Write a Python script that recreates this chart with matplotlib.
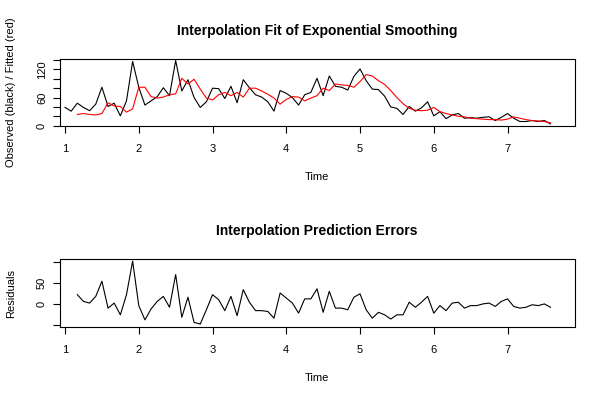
import numpy as np
import matplotlib
matplotlib.use("Agg")
import matplotlib.pyplot as plt

plt.rcParams['font.family'] = ['Liberation Sans', 'DejaVu Sans']

# monthly series, frequency 12, starting at time 1
start = 1.0
freq = 12

observed = [39, 31, 48, 39, 32, 46, 82, 41, 48, 21, 53, 137, 82, 44, 53, 62,
            81, 64, 139, 74, 98, 60, 39, 51, 80, 79, 58, 84, 49, 98, 81, 66,
            61, 51, 31, 75, 69, 60, 44, 66, 71, 101, 64, 106, 84, 82, 76, 105,
            121, 96, 78, 77, 63, 40, 37, 24, 41, 31, 38, 51, 21, 30, 15, 23,
            26, 16, 17, 16, 18, 19, 11, 18, 26, 16, 9, 9, 11, 9, 11, 4]

# fitted values start at the third observation
fitted = [24, 26, 24, 23, 26, 49, 42, 41, 29, 36, 82, 82, 62, 59, 61, 66,
          68, 101, 89, 99, 78, 59, 55, 66, 71, 64, 71, 61, 80, 80, 74, 67,
          59, 46, 56, 62, 61, 53, 59, 64, 80, 75, 89, 87, 86, 82, 94, 109,
          106, 96, 88, 75, 60, 47, 37, 33, 32, 33, 39, 30, 26, 23, 20, 19,
          16, 15, 14, 13, 13, 12, 14, 19, 16, 13, 11, 10, 9, 6]

residuals = [22, 6, 2, 18, 54, -10, 2, -26, 22, 102, -4, -38, -12, 6, 18, -8,
             70, -32, 16, -44, -48, -14, 22, 10, -16, 18, -28, 34, 4, -16, -16, -18,
             -34, 26, 14, 2, -22, 12, 12, 36, -20, 30, -10, -10, -14, 16, 24, -14,
             -34, -20, -26, -36, -26, -26, 4, -8, 4, 18, -22, -4, -16, 2, 4, -10,
             -4, -4, 0, 2, -6, 6, 12, -6, -10, -8, -2, -4, 0, -8]

t_obs = start + np.arange(len(observed)) / freq
t_fit = t_obs[len(observed) - len(fitted):]
t_res = t_obs[len(observed) - len(residuals):]

fig = plt.figure(figsize=(6, 4), dpi=100)
W, H = 600.0, 400.0
left, right = 59.5, 575.0


def make_axes(top, bottom):
    ax = fig.add_axes([left / W, 1 - bottom / H, (right - left) / W, (bottom - top) / H])
    for s in ax.spines.values():
        s.set_linewidth(0.8)
    ax.tick_params(direction='out', length=5, width=0.8, labelsize=8, pad=8)
    ax.set_xlim(0.925, 7.915)
    ax.set_xticks(range(1, 8))
    return ax


# top panel
ax1 = make_axes(59, 126)
ax1.plot(t_obs, observed, color='black', lw=0.8)
ax1.plot(t_fit, fitted, color='red', lw=0.8)
ax1.set_ylim(-0.6, 142.2)
ax1.set_yticks(range(0, 141, 20))
ax1.set_yticklabels(['0', '', '', '60', '', '', '120', ''], rotation=90, va='center')
ax1.tick_params(axis='y', pad=4)
ax1.set_title('Interpolation Fit of Exponential Smoothing', fontsize=10, fontweight='bold', pad=17)
ax1.set_xlabel('Time', fontsize=8, labelpad=13)
ax1.set_ylabel('Observed (black) / Fitted (red)', fontsize=8)
ax1.yaxis.set_label_coords(-0.085, 0.5)

# bottom panel
ax2 = make_axes(259, 327)
ax2.plot(t_res, residuals, color='black', lw=0.8)
ax2.set_ylim(-55, 107)
ax2.set_yticks([-50, 0, 50, 100])
ax2.set_yticklabels(['', '0', '50', ''], rotation=90, va='center')
ax2.tick_params(axis='y', pad=4)
ax2.set_title('Interpolation Prediction Errors', fontsize=10, fontweight='bold', pad=17)
ax2.set_xlabel('Time', fontsize=8, labelpad=13)
ax2.set_ylabel('Residuals', fontsize=8)
ax2.yaxis.set_label_coords(-0.085, 0.5)

fig.savefig('out.png', dpi=100)
